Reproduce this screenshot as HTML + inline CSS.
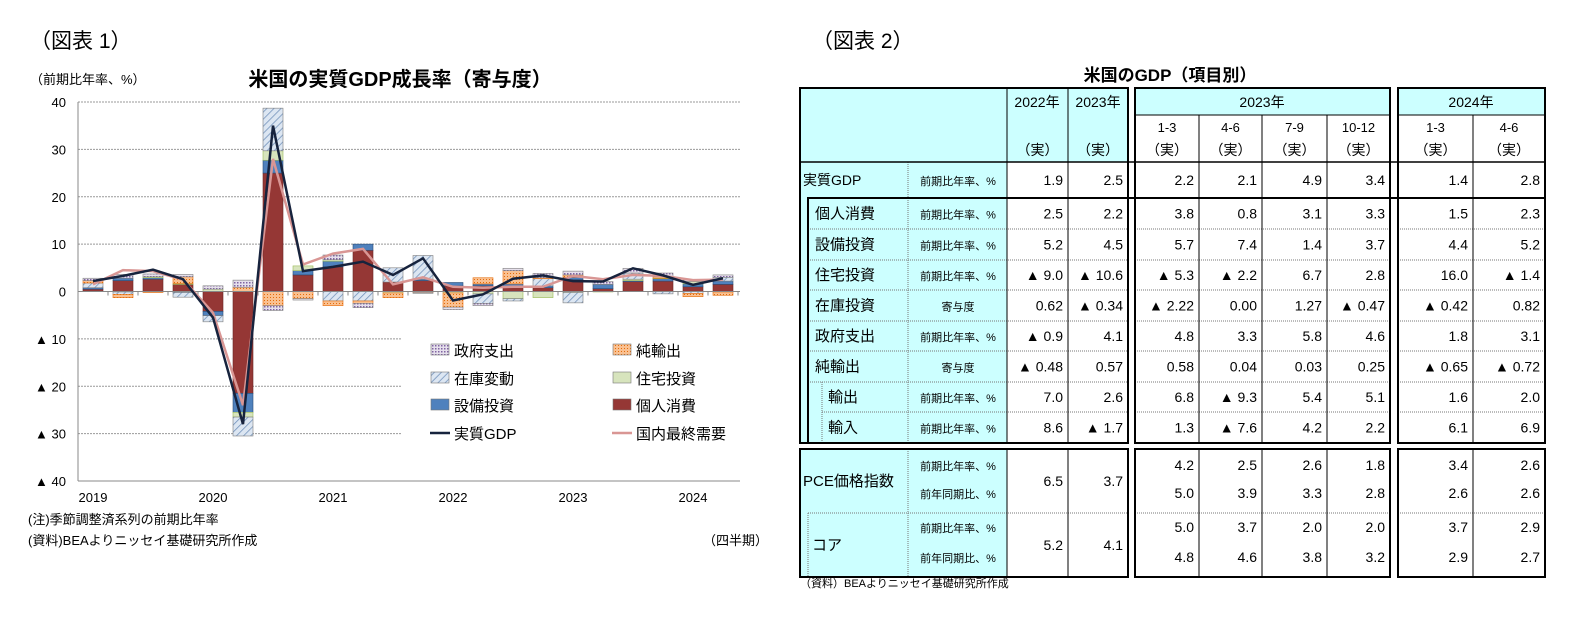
<!DOCTYPE html>
<html><head><meta charset="utf-8"><style>
body{margin:0;background:#fff;width:1570px;height:617px;overflow:hidden;font-family:"Liberation Sans","Noto Sans CJK JP",sans-serif}
svg text{font-family:"Liberation Sans","Noto Sans CJK JP",sans-serif}
</style></head><body>
<svg id="s" width="1570" height="617" xmlns="http://www.w3.org/2000/svg">
<defs>
<pattern id="hatch" width="5" height="5" patternUnits="userSpaceOnUse" patternTransform="rotate(45)"><rect width="5" height="5" fill="#dce6f2"/><line x1="0" y1="0" x2="0" y2="5" stroke="#6f8fb8" stroke-width="1.5"/></pattern>
<pattern id="dots" width="3" height="3" patternUnits="userSpaceOnUse"><rect width="3" height="3" fill="#e6e0ec"/><rect width="1.5" height="1.5" fill="#8064a2"/></pattern>
<pattern id="orng" width="3" height="3" patternUnits="userSpaceOnUse"><rect width="3" height="3" fill="#fac090"/><rect width="1" height="1" fill="#e46c0a"/></pattern>
</defs>
<text x="30" y="48" font-size="21" font-family="Liberation Serif,Noto Serif CJK SC,serif">（図表 1）</text>
<text x="812" y="48" font-size="21" font-family="Liberation Serif,Noto Serif CJK SC,serif">（図表 2）</text>
<text x="30" y="84" font-size="13">（前期比年率、%）</text>
<text x="400" y="86" font-size="20" font-weight="bold" text-anchor="middle">米国の実質GDP成長率（寄与度）</text>
<g id="chart"></g>
<text x="28" y="524" font-size="13">(注)季節調整済系列の前期比年率</text>
<text x="28" y="545" font-size="13">(資料)BEAよりニッセイ基礎研究所作成</text>
<text x="768" y="545" font-size="13" text-anchor="end">（四半期）</text>
<text x="1170" y="81" font-size="17" font-weight="bold" text-anchor="middle">米国のGDP（項目別）</text>
<g id="table"></g>
<text x="800" y="587" font-size="11">（資料）BEAよりニッセイ基礎研究所作成</text>
</svg>
<script>
const quarters=["2019Q1","2019Q2","2019Q3","2019Q4","2020Q1","2020Q2","2020Q3","2020Q4","2021Q1","2021Q2","2021Q3","2021Q4","2022Q1","2022Q2","2022Q3","2022Q4","2023Q1","2023Q2","2023Q3","2023Q4","2024Q1","2024Q2"];
const yearLabels=["2019","2020","2021","2022","2023","2024"];
const yTicks=[40,30,20,10,0,-10,-20,-30,-40];
const consumption=[0.5,2.3,2.6,1.5,-4.2,-21.5,25,3.5,5.2,8.7,2,2.3,1.2,1.2,1,0.8,2.5,0.6,2.1,2.2,1,1.5];
const equipment=[0.3,0.5,0.3,-0.2,-0.9,-4,2.7,0.9,1.2,1.3,0,0.3,0.7,0.4,0.6,0.4,0.5,0.9,0.2,0.5,0.6,0.7];
const residential=[0,-0.1,0.2,0.2,0.5,-1,2,1,0.3,0,-0.3,0,-0.3,-0.5,-1.5,-1.3,-0.2,-0.1,0.3,0.1,0.5,-0.1];
const inventory=[1,-0.5,-0.1,-1,-1.3,-4,9,0,-2,-2,3,5,0,-2,-0.5,1.5,-2.2,0,1.3,-0.5,-0.4,0.8];
const netExports=[0.5,-0.7,-0.1,1.4,0,0.9,-3,-1.5,-1,-0.5,-1,-0.2,-3,1.3,2.8,0.2,0.5,0,0,0.3,-0.7,-0.7];
const government=[0.5,0.8,0.6,0.5,0.7,1.5,-1,-0.3,1,-0.9,0,-0.2,-0.5,-0.5,0.5,0.9,0.8,0.6,1,0.8,0.3,0.5];
const realGDP=[2.2,3.3,4.6,2.6,-5.5,-28,35,4.3,5.2,6.3,3.5,7,-1.9,-0.6,2.7,3.4,2.2,2.1,4.9,3.4,1.4,2.8];
const domesticDemand=[1.5,4.5,4.3,2.5,-4.5,-24,28,5.7,8,9,1.5,3,1,0.8,1,1,3.3,2.6,3.5,3.3,2.4,2.5];
const NS='http://www.w3.org/2000/svg';
function mk(p,t,a,txt){const e=document.createElementNS(NS,t);for(const k in a)e.setAttribute(k,a[k]);if(txt!==undefined)e.textContent=txt;p.appendChild(e);return e;}
const ch=document.getElementById('chart');
const x0=78,x1=740,yTop=102,yBot=481;
const yS=v=>yTop+(40-v)*(yBot-yTop)/80;
const xS=i=>93+30*i;
yTicks.forEach(v=>{
  const ln=mk(ch,'line',{x1:x0,x2:(v<=-10&&v>=-30)?402:x1,y1:yS(v),y2:yS(v),stroke:'#999','stroke-dasharray':'2,1','stroke-width':1});
  
  
  const t=mk(ch,'text',{x:66,y:yS(v)+5,'font-size':13,'text-anchor':'end'},v<0?'▲ '+(-v):String(v));
  
  
});
mk(ch,'line',{x1:x0,x2:x0,y1:yTop,y2:yBot,stroke:'#888'});
const series=[[consumption,'#953735','#6b2525'],[equipment,'#4f81bd','#2c4d75'],[residential,'#d7e4bd','#9bbb59'],[inventory,'url(#hatch)','#7f7f7f'],[netExports,'url(#orng)','#e46c0a'],[government,'url(#dots)','#7f7f7f']];
const names=['bar-consumption','bar-equipment','bar-residential','bar-inventory','bar-net-exports','bar-government'];
quarters.forEach((q,i)=>{
  let pos=0,neg=0;
  series.forEach((s,k)=>{
    const v=s[0][i];if(!v)return;
    let a,b;if(v>0){a=pos;b=pos+v;pos=b;}else{a=neg;b=neg+v;neg=b;}
    const r=mk(ch,'rect',{x:xS(i)-10,width:20,y:yS(Math.max(a,b)),height:Math.abs(yS(a)-yS(b)),fill:s[1],stroke:s[2],'stroke-width':0.6});
    
    
  });
});
mk(ch,'line',{x1:x0,x2:x1,y1:yS(0),y2:yS(0),stroke:'#888'});
for(let i=0;i<=22;i++)mk(ch,'line',{x1:78+30*i,x2:78+30*i,y1:yS(0),y2:yS(0)+4,stroke:'#888'});
const pk=domesticDemand.map((v,i)=>xS(i)+','+yS(v)).join(' ');
const l2=mk(ch,'polyline',{points:pk,fill:'none',stroke:'#d99694','stroke-width':2.5});


const pg=realGDP.map((v,i)=>xS(i)+','+yS(v)).join(' ');
const l1=mk(ch,'polyline',{points:pg,fill:'none',stroke:'#17233d','stroke-width':2.5});


mk(ch,'line',{x1:x0,x2:x1,y1:yBot,y2:yBot,stroke:'#888'});
yearLabels.forEach((y,k)=>{const t=mk(ch,'text',{x:93+120*k,y:502,'font-size':13,'text-anchor':'middle'},y);
  
  });
const lg=mk(ch,'g',{});


const leg=[['政府支出','url(#dots)',430,350],['純輸出','url(#orng)',612,350],['在庫変動','url(#hatch)',430,378],['住宅投資','#d7e4bd',612,378],['設備投資','#4f81bd',430,405],['個人消費','#953735',612,405],['実質GDP','line:#17233d',430,433],['国内最終需要','line:#d99694',612,433]];
leg.forEach(l=>{
  const g=mk(lg,'g',{});
  
  
  if(l[1].startsWith('line:'))mk(g,'line',{x1:l[2],x2:l[2]+20,y1:l[3],y2:l[3],stroke:l[1].slice(5),'stroke-width':2.5});
  else mk(g,'rect',{x:l[2]+1,y:l[3]-6,width:18,height:11,fill:l[1],stroke:'#777','stroke-width':0.6});
  mk(g,'text',{x:l[2]+24,y:l[3]+6,'font-size':15},l[0]);
});
const T=document.getElementById('table');
const cyan='#ccffff';
const colsA=[[1007,1068],[1068,1128]],colsB=[[1135,1199],[1199,1262],[1262,1327],[1327,1390]],colsC=[[1398,1473],[1473,1545]];
const valCols=colsA.concat(colsB,colsC);
const rowLabels=['実質GDP','個人消費','設備投資','住宅投資','在庫投資','政府支出','純輸出','輸出','輸入'];
const rowUnits=['前期比年率、%','前期比年率、%','前期比年率、%','前期比年率、%','寄与度','前期比年率、%','寄与度','前期比年率、%','前期比年率、%'];
const rowVals=[["1.9","2.5","2.2","2.1","4.9","3.4","1.4","2.8"],["2.5","2.2","3.8","0.8","3.1","3.3","1.5","2.3"],["5.2","4.5","5.7","7.4","1.4","3.7","4.4","5.2"],["▲ 9.0","▲ 10.6","▲ 5.3","▲ 2.2","6.7","2.8","16.0","▲ 1.4"],["0.62","▲ 0.34","▲ 2.22","0.00","1.27","▲ 0.47","▲ 0.42","0.82"],["▲ 0.9","4.1","4.8","3.3","5.8","4.6","1.8","3.1"],["▲ 0.48","0.57","0.58","0.04","0.03","0.25","▲ 0.65","▲ 0.72"],["7.0","2.6","6.8","▲ 9.3","5.4","5.1","1.6","2.0"],["8.6","▲ 1.7","1.3","▲ 7.6","4.2","2.2","6.1","6.9"]];
const rowY=[162,198,229,260,290,321,351,382,412,443];
const rowIndent=[803,815,815,815,815,815,815,828,828];
function txt(x,y,s,sz,anchor,name){const t=mk(T,'text',{x:x,y:y,'font-size':sz,'text-anchor':anchor||'start'},s);return t;}
mk(T,'rect',{x:800,y:88,width:328,height:74,fill:cyan});
mk(T,'rect',{x:1135,y:88,width:255,height:27,fill:cyan});
mk(T,'rect',{x:1398,y:88,width:147,height:27,fill:cyan});
mk(T,'rect',{x:800,y:162,width:207,height:281,fill:cyan});
mk(T,'rect',{x:800,y:449,width:207,height:128,fill:cyan});
for(let r=1;r<rowY.length-1;r++){[[808,1128],[1135,1390],[1398,1545]].forEach(s=>mk(T,'line',{x1:r>=7&&s[0]==808?822:s[0],x2:s[1],y1:rowY[r+1],y2:rowY[r+1],stroke:'#777','stroke-dasharray':'1,1'}));}
mk(T,'line',{x1:908,x2:908,y1:162,y2:443,stroke:'#777','stroke-dasharray':'1,1'});
mk(T,'line',{x1:908,x2:908,y1:449,y2:577,stroke:'#777','stroke-dasharray':'1,1'});
mk(T,'line',{x1:822,x2:822,y1:382,y2:443,stroke:'#777','stroke-dasharray':'1,1'});
mk(T,'line',{x1:808,x2:1128,y1:513,y2:513,stroke:'#777','stroke-dasharray':'1,1'});
mk(T,'line',{x1:1135,x2:1390,y1:513,y2:513,stroke:'#777','stroke-dasharray':'1,1'});
mk(T,'line',{x1:1398,x2:1545,y1:513,y2:513,stroke:'#777','stroke-dasharray':'1,1'});
mk(T,'line',{x1:808,x2:808,y1:513,y2:577,stroke:'#777','stroke-dasharray':'1,1'});
const solid=(a,b,c,d,w)=>mk(T,'line',{x1:a,y1:b,x2:c,y2:d,stroke:'#000','stroke-width':w||1});
[1007,1068].forEach(x=>{solid(x,88,x,443);solid(x,449,x,577);});
[1199,1262,1327,1473].forEach(x=>{solid(x,115,x,443);solid(x,449,x,577);});
solid(1135,115,1390,115);solid(1398,115,1545,115);
solid(800,162,1545,162,1.5);solid(808,198,1545,198,2);
[[800,1128],[1135,1390],[1398,1545]].forEach(s=>{
  mk(T,'rect',{x:s[0],y:88,width:s[1]-s[0],height:355,fill:'none',stroke:'#000','stroke-width':2});
  mk(T,'rect',{x:s[0],y:449,width:s[1]-s[0],height:128,fill:'none',stroke:'#000','stroke-width':2});
});
mk(T,'rect',{x:808,y:198,width:320,height:245,fill:'none',stroke:'#000','stroke-width':2});
txt(1037,107,'2022年',14,'middle','header-2022');txt(1098,107,'2023年',14,'middle','header-2023');
txt(1262,107,'2023年',14,'middle','header-2023-quarters');txt(1471,107,'2024年',14,'middle','header-2024-quarters');
['1-3','4-6','7-9','10-12'].forEach((q,k)=>txt((colsB[k][0]+colsB[k][1])/2,132,q,13,'middle','header-quarter'));
['1-3','4-6'].forEach((q,k)=>txt((colsC[k][0]+colsC[k][1])/2,132,q,13,'middle','header-quarter'));
valCols.forEach(c=>txt((c[0]+c[1])/2,155,'（実）',14,'middle','header-actual'));
rowLabels.forEach((l,r)=>{
  const yc=(rowY[r]+rowY[r+1])/2+5;
  txt(rowIndent[r],yc,l,r==0?14:15,'start','row-label');
  txt(958,yc,rowUnits[r],11,'middle','row-unit');
  rowVals[r].forEach((v,k)=>txt(valCols[k][1]-5,yc,v,14,'end','cell-value'));
});
txt(803,486,'PCE価格指数',15,'start','row-label');txt(812,550,'コア',15,'start','row-label');
const lowUnits=['前期比年率、%','前年同期比、%','前期比年率、%','前年同期比、%'];
const lowY=[470,498,532,562];
lowUnits.forEach((u,i)=>txt(958,lowY[i],u,11,'middle','row-unit'));
const annualLow=[["6.5","3.7"],["5.2","4.1"]];
annualLow.forEach((a,i)=>a.forEach((v,k)=>txt(colsA[k][1]-5,[486,550][i],v,14,'end','cell-value')));
const qLow=[["4.2","2.5","2.6","1.8","3.4","2.6"],["5.0","3.9","3.3","2.8","2.6","2.6"],["5.0","3.7","2.0","2.0","3.7","2.9"],["4.8","4.6","3.8","3.2","2.9","2.7"]];
const qc=colsB.concat(colsC);
qLow.forEach((r,i)=>r.forEach((v,k)=>txt(qc[k][1]-5,lowY[i],v,14,'end','cell-value')));
</script>
</body></html>
